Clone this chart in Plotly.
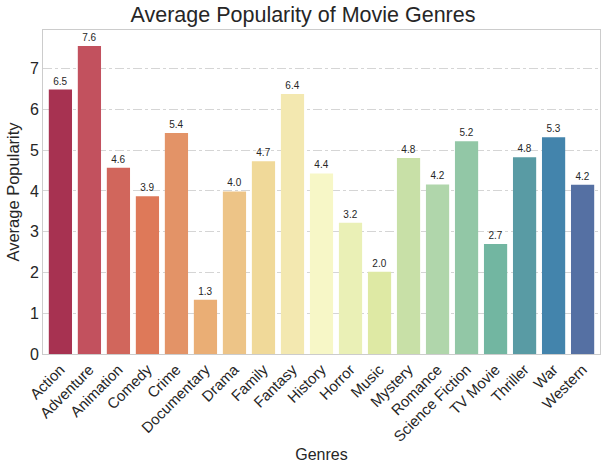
import colorsys

import plotly.graph_objects as go
from plotly.colors import sample_colorscale, unlabel_rgb, diverging

genres = [
    "Action", "Adventure", "Animation", "Comedy", "Crime", "Documentary",
    "Drama", "Family", "Fantasy", "History", "Horror", "Music", "Mystery",
    "Romance", "Science Fiction", "TV Movie", "Thriller", "War", "Western",
]
popularity = [
    6.49, 7.56, 4.57, 3.87, 5.42, 1.33, 3.99, 4.73, 6.38, 4.43,
    3.22, 2.02, 4.81, 4.16, 5.22, 2.70, 4.83, 5.32, 4.15,
]


def desaturate(rgb_str, prop=0.75):
    # seaborn-style bar colours: Spectral sampled, then saturation scaled down
    r, g, b = [c / 255 for c in unlabel_rgb(rgb_str)]
    h, l, s = colorsys.rgb_to_hls(r, g, b)
    r, g, b = colorsys.hls_to_rgb(h, l, s * prop)
    return f"rgb({r*255:.0f},{g*255:.0f},{b*255:.0f})"


n = len(genres)
points = [(i + 1) / (n + 1) for i in range(n)]
colors = [desaturate(c) for c in sample_colorscale(diverging.Spectral, points)]

fig = go.Figure(
    go.Bar(
        x=genres,
        y=popularity,
        marker=dict(color=colors, line=dict(width=0)),
        width=0.8,
        text=[f"{v:.1f}" for v in popularity],
        textposition="outside",
        textfont=dict(size=10, color="#262626"),
        cliponaxis=False,
    )
)

fig.update_layout(
    width=606,
    height=469,
    template="plotly_white",
    font=dict(family="Liberation Sans, Arial, sans-serif", color="#262626"),
    title=dict(
        text="Average Popularity of Movie Genres",
        x=0.5, xanchor="center", y=0.985, yanchor="top",
        font=dict(size=21.5, color="#262626"),
    ),
    margin=dict(l=43, r=6, t=30, b=115),
    showlegend=False,
    plot_bgcolor="white",
    paper_bgcolor="white",
)

fig.update_xaxes(
    title=dict(text="Genres", font=dict(size=16), standoff=4),
    tickangle=-45,
    tickfont=dict(size=15),
    showgrid=False,
    showline=True, linecolor="#cccccc", linewidth=1, mirror=True,
    range=[-0.6, n - 0.4],
    automargin=False,
)
fig.update_yaxes(
    title=dict(text="Average Popularity", font=dict(size=16.5), standoff=6),
    range=[0, 7.95],
    tickvals=list(range(8)),
    tickfont=dict(size=16),
    showgrid=True, gridcolor="#d5d5d5", griddash="dashdot", gridwidth=1,
    zeroline=False,
    showline=True, linecolor="#cccccc", linewidth=1, mirror=True,
    automargin=False,
)

# drop the default 8px page margin so the figure sits at the window's corner
fig.write_html(
    "out.html",
    config={"displayModeBar": False},
    post_script="document.body.style.margin = '0';",
)
